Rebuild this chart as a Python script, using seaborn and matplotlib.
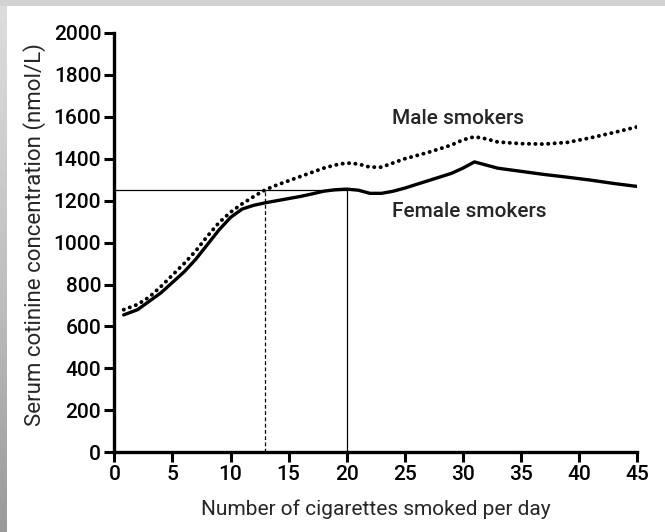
import numpy as np
import pandas as pd
import seaborn as sns
import matplotlib.pyplot as plt
from matplotlib.patches import Rectangle

# Values
female_x = [0.8, 2, 3, 4, 5, 6, 7, 8, 9, 10, 11, 12, 13, 14, 15, 16, 17, 18, 19, 20,
            21, 22, 23, 24, 25, 27, 29, 30, 31, 32, 33, 35, 37, 39, 41, 43, 45]
female_y = [655, 680, 720, 760, 810, 860, 920, 990, 1060, 1120, 1160, 1178, 1190, 1200,
            1210, 1220, 1232, 1245, 1252, 1255, 1250, 1235, 1235, 1245, 1260, 1295, 1330,
            1355, 1385, 1370, 1355, 1340, 1325, 1312, 1298, 1282, 1268]
male_x = [0.8, 2, 3, 4, 5, 6, 7, 8, 9, 10, 11, 12, 13, 14, 15, 16, 17, 18, 19, 20,
          21, 22, 23, 24, 25, 27, 29, 30, 31, 32, 33, 35, 37, 39, 41, 43, 45]
male_y = [680, 705, 740, 790, 845, 900, 960, 1030, 1095, 1145, 1185, 1220, 1252, 1275,
          1295, 1315, 1335, 1355, 1370, 1380, 1375, 1360, 1360, 1380, 1400, 1430, 1465,
          1490, 1505, 1495, 1480, 1472, 1470, 1478, 1500, 1525, 1552]

ref_level = 1250
male_cross = 13
female_cross = 20

x_ticks = [0, 5, 10, 15, 20, 25, 30, 35, 40, 45]
y_ticks = [0, 200, 400, 600, 800, 1000, 1200, 1400, 1600, 1800, 2000]

sns.set_style('ticks')
plt.rcParams['font.family'] = ['Roboto', 'Liberation Sans', 'DejaVu Sans']
plt.rcParams['font.weight'] = 'medium'

fig = plt.figure(figsize=(6.65, 5.32), dpi=100)
fig.patch.set_facecolor('white')

# scanned-page border strips
fig.add_artist(Rectangle((0, 1 - 6 / 532), 1, 6 / 532, transform=fig.transFigure,
                         facecolor='#d2d2d2', edgecolor='none'))
grad = np.linspace(0, 1, 100).reshape(-1, 1)
gax = fig.add_axes([0, 0, 7 / 665, 1 - 6 / 532])
gax.imshow(grad, aspect='auto', cmap='Greys', vmin=-0.9, vmax=3.0)
gax.axis('off')

ax = fig.add_axes([0.172, 0.150, 0.786, 0.788])

df_f = pd.DataFrame({'x': female_x, 'y': female_y})
df_m = pd.DataFrame({'x': male_x, 'y': male_y})
sns.lineplot(data=df_f, x='x', y='y', ax=ax, color='black', linewidth=2.4)
sns.lineplot(data=df_m, x='x', y='y', ax=ax, color='black', linewidth=2.8,
             linestyle=(0, (0.05, 1.6)), dash_capstyle='round')

# reference lines
ax.plot([0, female_cross], [ref_level, ref_level], color='black', linewidth=0.9)
ax.plot([female_cross, female_cross], [0, ref_level], color='black', linewidth=0.9)
ax.plot([male_cross, male_cross], [0, ref_level], color='black', linewidth=0.9,
        linestyle=(0, (3, 2)))

ax.text(23.9, 1590, 'Male smokers', fontsize=15, va='center', ha='left')
ax.text(23.9, 1150, 'Female smokers', fontsize=15, va='center', ha='left')

ax.set_xlim(0, 45)
ax.set_ylim(0, 2000)
ax.set_xticks(x_ticks)
ax.set_yticks(y_ticks)
ax.tick_params(axis='both', labelsize=15, width=2.2, length=7, color='black',
               labelcolor='black', pad=2.5)
for side in ['left', 'bottom']:
    ax.spines[side].set_linewidth(2.4)
    ax.spines[side].set_color('black')
sns.despine(ax=ax)

ax.set_xlabel('Number of cigarettes smoked per day', fontsize=15, labelpad=11)
ax.set_ylabel('Serum cotinine concentration (nmol/L)', fontsize=16)
ax.yaxis.set_label_coords(-0.13, 0.52)

fig.savefig('out.png', dpi=100)
